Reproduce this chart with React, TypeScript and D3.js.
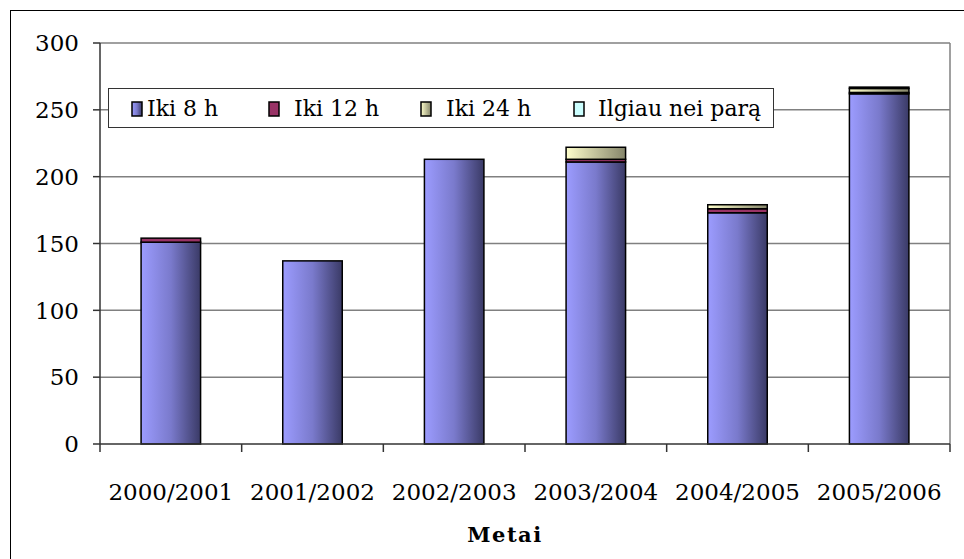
import React from "react";
import * as d3 from "d3";

const categories = ["2000/2001", "2001/2002", "2002/2003", "2003/2004", "2004/2005", "2005/2006"];
const seriesNames = ["Iki 8 h", "Iki 12 h", "Iki 24 h", "Ilgiau nei parą"];
const iki8 = [151, 137, 213, 211, 173, 262];
const iki12 = [3, 0, 0, 2, 3, 1];
const iki24 = [0, 0, 0, 9, 3, 3];
const ilgiau = [0, 0, 0, 0, 0, 1];
const yTicks = [0, 50, 100, 150, 200, 250, 300];

const W = 964, H = 559;
const plot = { left: 100, right: 950, top: 43, bottom: 444 };
const FONT = "DejaVu Serif, serif";

export default function App() {
  const x = d3.scaleBand<string>().domain(categories).range([plot.left, plot.right]).paddingInner(0.58).paddingOuter(0.29);
  const xb = d3.scaleBand<string>().domain(categories).range([plot.left, plot.right]);
  const y = d3.scaleLinear().domain([0, 300]).range([plot.bottom, plot.top]);
  const rows = categories.map((c, i) => ({ c, a: iki8[i], b: iki12[i], d: iki24[i], e: ilgiau[i] }));
  const stack = d3.stack<any>().keys(["a", "b", "d", "e"])(rows);
  const fills = ["url(#gBlue)", "#993366", "url(#gYel)", "#CCFFFF"];
  const swatchX = [132, 269, 421, 574];
  const textX = [147, 294, 446, 598];
  const ts = { fontFamily: FONT };
  return (
    <svg width={W} height={H} style={{ position: "absolute", left: 0, top: 0, background: "#fff", fontFamily: FONT }}>
      <defs>
        <linearGradient id="gBlue" x1="0" x2="1" y1="0" y2="0">
          <stop offset="0" stopColor="#9c9cff" />
          <stop offset="0.5" stopColor="#7a7acc" />
          <stop offset="1" stopColor="#3a3a66" />
        </linearGradient>
        <linearGradient id="gYel" x1="0" x2="1" y1="0" y2="0">
          <stop offset="0" stopColor="#ffffcc" />
          <stop offset="1" stopColor="#85856a" />
        </linearGradient>
      </defs>
      <rect x={10.5} y={10.5} width={W} height={H} fill="#fff" stroke="#000" strokeWidth={1} />
      {yTicks.map((t) => (
        <g key={t}>
          {t > 0 && <line x1={plot.left} x2={plot.right} y1={y(t)} y2={y(t)} stroke="#808080" strokeWidth={1.5} />}
          <line x1={plot.left - 7} x2={plot.left} y1={y(t)} y2={y(t)} stroke="#333" strokeWidth={1.5} />
          <text x={79} y={y(t)} dy="0.36em" textAnchor="end" fontSize={23} fill="#000" style={ts}>{t}</text>
        </g>
      ))}
      <line x1={plot.right} x2={plot.right} y1={plot.top} y2={plot.bottom} stroke="#808080" strokeWidth={1.5} />
      {stack.map((s, si) => (
        <g key={si}>
          {s.map((p, i) => p[1] - p[0] > 0 ? (
            <rect key={i} x={x(categories[i])} width={x.bandwidth()} y={y(p[1])} height={y(p[0]) - y(p[1])}
              fill={fills[si]} stroke="#000" strokeWidth={1.5} />
          ) : null)}
        </g>
      ))}
      <line x1={plot.left} x2={plot.left} y1={plot.top} y2={plot.bottom + 8} stroke="#333" strokeWidth={1.5} />
      <line x1={plot.left} x2={plot.right} y1={plot.bottom} y2={plot.bottom} stroke="#333" strokeWidth={1.5} />
      {categories.map((c) => (
        <g key={c}>
          <line x1={xb(c)! + xb.bandwidth()} x2={xb(c)! + xb.bandwidth()} y1={plot.bottom} y2={plot.bottom + 8} stroke="#333" strokeWidth={1.5} />
          <text x={xb(c)! + xb.bandwidth() / 2} y={500} textAnchor="middle" fontSize={23} style={ts}>{c}</text>
        </g>
      ))}
      <text x={505} y={542} textAnchor="middle" fontSize={21} fontWeight="bold" letterSpacing={1.5} style={ts}>Metai</text>
      <rect x={108.5} y={88.5} width={665} height={39} fill="#fff" stroke="#333" strokeWidth={1} />
      {seriesNames.map((n, i) => (
        <g key={n}>
          <rect x={swatchX[i]} y={102} width={10} height={14} fill={fills[i]} stroke="#000" strokeWidth={1.5} />
          <text x={textX[i]} y={116} fontSize={22} style={ts}>{n}</text>
        </g>
      ))}
    </svg>
  );
}
